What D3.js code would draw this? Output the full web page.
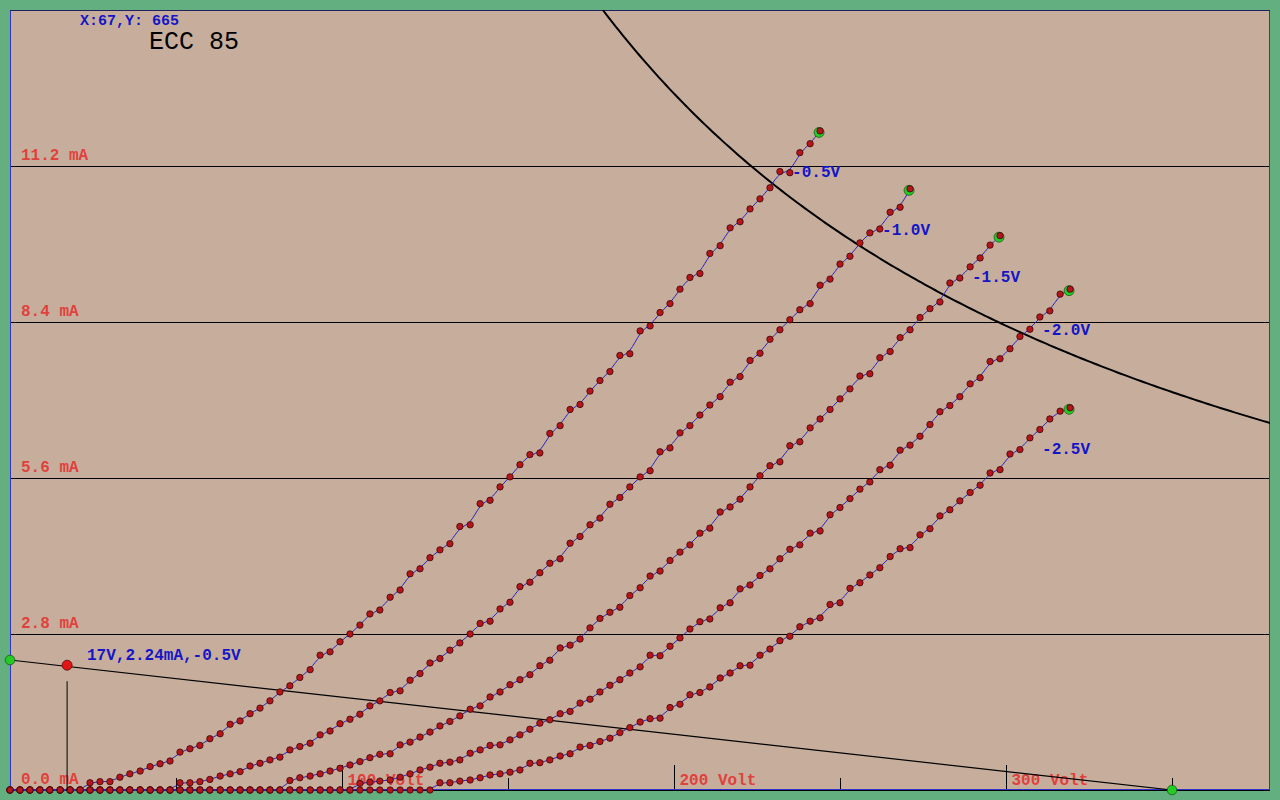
<!DOCTYPE html>
<html><head><meta charset="utf-8">
<script src="https://cdn.jsdelivr.net/npm/d3@7"></script>
<style>html,body{margin:0;padding:0;background:#64af7f;} svg{display:block}</style>
</head><body><svg id="c" width="1280" height="800"></svg>
<script>
// ---------- DATA ----------
const anodeVolts = [
  0,3.0,6.0,9.0,12.0,15.1,18.1,21.1,24.1,27.1,
  30.1,33.1,36.1,39.2,42.2,45.2,48.2,51.2,54.2,57.2,
  60.2,63.3,66.3,69.3,72.3,75.3,78.3,81.3,84.3,87.3,
  90.4,93.4,96.4,99.4,102.4,105.4,108.4,111.4,114.5,117.5,
  120.5,123.5,126.5,129.5,132.5,135.5,138.6,141.6,144.6,147.6,
  150.6,153.6,156.6,159.6,162.6,165.7,168.7,171.7,174.7,177.7,
  180.7,183.7,186.7,189.8,192.8,195.8,198.8,201.8,204.8,207.8,
  210.8,213.9,216.9,219.9,222.9,225.9,228.9,231.9,234.9,237.9,
  241.0,244.0,247.0,250.0,253.0,256.0,259.0,262.0,265.1,268.1,
  271.1,274.1,277.1,280.1,283.1,286.1,289.2,292.2,295.2,298.2,
  301.2,304.2,307.2,310.2,313.2,316.3,319.3
];
const gridLabels = ["-0.5V","-1.0V","-1.5V","-2.0V","-2.5V"];
// anode current (mA) per grid voltage, aligned with anodeVolts
const ia_g05 = [
  0,0,0,0,0,0,0,0,0.13,0.15,
  0.15,0.23,0.29,0.34,0.42,0.47,0.52,0.68,0.74,0.80,
  0.92,1.01,1.18,1.24,1.37,1.47,1.60,1.76,1.87,2.02,
  2.16,2.42,2.48,2.66,2.80,2.96,3.16,3.23,3.46,3.59,
  3.88,3.97,4.17,4.31,4.42,4.73,4.76,5.14,5.20,5.44,
  5.62,5.84,6.02,6.05,6.40,6.54,6.83,6.92,7.16,7.35,
  7.51,7.80,7.83,8.24,8.33,8.57,8.73,8.99,9.20,9.27,
  9.63,9.77,10.09,10.20,10.43,10.61,10.81,11.10,11.08,11.44,
  11.60,11.83
];
const ia_g10 = [
  0,0,0,0,0,0,0,0,0,0,
  0,0,0,0,0,0,0,0.13,0.13,0.15,
  0.19,0.25,0.29,0.33,0.43,0.48,0.54,0.59,0.72,0.78,
  0.84,0.99,1.06,1.19,1.27,1.36,1.51,1.60,1.75,1.78,
  1.97,2.09,2.28,2.36,2.51,2.64,2.80,2.99,3.03,3.25,
  3.37,3.65,3.73,3.90,4.07,4.15,4.43,4.55,4.76,4.88,
  5.13,5.25,5.44,5.62,5.73,6.07,6.14,6.41,6.54,6.73,
  6.91,7.06,7.32,7.42,7.71,7.84,8.09,8.26,8.44,8.62,
  8.73,9.06,9.17,9.44,9.58,9.82,10.00,10.07,10.37,10.46,
  10.79
];
const ia_g15 = [
  0,0,0,0,0,0,0,0,0,0,
  0,0,0,0,0,0,0,0,0,0,
  0,0,0,0,0,0,0,0,0.17,0.22,
  0.25,0.29,0.34,0.39,0.45,0.51,0.58,0.64,0.65,0.81,
  0.86,0.95,1.04,1.15,1.23,1.33,1.45,1.51,1.67,1.76,
  1.89,1.98,2.07,2.23,2.33,2.55,2.60,2.71,2.91,3.08,
  3.19,3.28,3.49,3.63,3.84,3.93,4.12,4.27,4.40,4.61,
  4.70,4.99,5.08,5.22,5.44,5.64,5.82,5.89,6.18,6.25,
  6.50,6.66,6.83,7.02,7.20,7.43,7.47,7.76,7.87,8.12,
  8.26,8.48,8.64,8.76,9.10,9.19,9.39,9.55,9.78,9.95
];
const ia_g20 = [
  0,0,0,0,0,0,0,0,0,0,
  0,0,0,0,0,0,0,0,0,0,
  0,0,0,0,0,0,0,0,0,0,
  0,0,0,0,0,0.12,0.14,0.16,0.18,0.23,
  0.29,0.36,0.41,0.48,0.50,0.54,0.66,0.72,0.80,0.81,
  0.90,0.99,1.09,1.20,1.26,1.37,1.41,1.56,1.63,1.76,
  1.88,1.98,2.10,2.21,2.42,2.41,2.58,2.73,2.89,3.02,
  3.07,3.27,3.36,3.61,3.68,3.85,3.97,4.15,4.32,4.40,
  4.61,4.65,4.94,5.07,5.23,5.40,5.53,5.75,5.83,6.10,
  6.19,6.35,6.56,6.79,6.90,7.06,7.29,7.40,7.69,7.74,
  7.92,8.14,8.27,8.49,8.60,8.90,8.99
];
const ia_g25 = [
  0,0,0,0,0,0,0,0,0,0,
  0,0,0,0,0,0,0,0,0,0,
  0,0,0,0,0,0,0,0,0,0,
  0,0,0,0,0,0,0,0,0,0,
  0,0,0,0.13,0.13,0.16,0.18,0.22,0.27,0.29,
  0.32,0.36,0.48,0.49,0.54,0.61,0.65,0.77,0.80,0.87,
  0.93,1.03,1.12,1.22,1.28,1.29,1.48,1.54,1.71,1.75,
  1.85,2.01,2.10,2.23,2.24,2.42,2.53,2.68,2.76,2.93,
  3.03,3.09,3.33,3.36,3.62,3.72,3.86,3.99,4.19,4.33,
  4.35,4.58,4.69,4.92,5.03,5.19,5.34,5.47,5.69,5.75,
  6.03,6.11,6.32,6.47,6.66,6.80,6.86
];
const yTickValues = [0, 2.8, 5.6, 8.4, 11.2];
const yTickLabels = ["0.0 mA","2.8 mA","5.6 mA","8.4 mA","11.2 mA"];
const xMajorTicks = [100, 200, 300];
const xMajorLabels = ["100 Volt","200 Volt","300 Volt"];
const xMinorTicks = [50, 150, 250, 350];
const supplyVolts = 350;          // load line end (V)
const loadLineMaxmA = 2.333;      // load line start current (mA)
const maxDissipationW = 2.5;      // anode dissipation hyperbola
const opPoint = {v: 17.2, ma: 2.24};
const opLabel = "17V,2.24mA,-0.5V";
const cursorText = "X:67,Y: 665";
const titleText = "ECC 85";

// ---------- CHART ----------
const svg = d3.select("#c");
const L = 10, R = 1270, T = 10, B = 790;
const x = d3.scaleLinear().domain([0, (R - L) / 3.32]).range([L, R]);
const y = d3.scaleLinear().domain([0, 14]).range([B, T]);
const mono = "'Liberation Mono','DejaVu Sans Mono',monospace";

svg.append("rect").attr("width",1280).attr("height",800).attr("fill","#64af7f");
svg.append("rect").attr("x",L).attr("y",T).attr("width",R-L).attr("height",B-T).attr("fill","#c7ae9c");
svg.append("defs").append("clipPath").attr("id","plot")
  .append("rect").attr("x",L).attr("y",T).attr("width",R-L).attr("height",B-T);

// horizontal grid lines + labels
const gy = svg.append("g").attr("transform",`translate(${L},0)`)
  .call(d3.axisRight(y).tickValues(yTickValues).tickSize(R-L)
        .tickFormat((d,i)=>yTickLabels[i]));
gy.select(".domain").remove();
gy.selectAll(".tick line").attr("stroke","#000").attr("stroke-width",1);
gy.selectAll(".tick text").attr("x",11).attr("y",-7).attr("dy",null)
  .attr("text-anchor","start").attr("fill","#e0413c")
  .style("font-family",mono).style("font-size","16px").style("font-weight","bold");

// x ticks
const gxMinor = svg.append("g").attr("transform",`translate(0,${B})`)
  .call(d3.axisTop(x).tickValues(xMinorTicks).tickSize(12).tickFormat(""));
gxMinor.select(".domain").remove();
gxMinor.selectAll(".tick line").attr("stroke","#000");
const gxMajor = svg.append("g").attr("transform",`translate(0,${B})`)
  .call(d3.axisTop(x).tickValues(xMajorTicks).tickSize(25).tickFormat((d,i)=>xMajorLabels[i]));
gxMajor.select(".domain").remove();
gxMajor.selectAll(".tick line").attr("stroke","#000");
gxMajor.selectAll(".tick text").attr("x",5).attr("y",-5).attr("dy",null)
  .attr("text-anchor","start").attr("fill","#e0413c")
  .style("font-family",mono).style("font-size","16px").style("font-weight","bold");

// border (under the marks)
svg.append("rect").attr("x",L+0.5).attr("y",T+0.5).attr("width",R-L-1).attr("height",B-T-1)
  .attr("fill","none").attr("stroke","#3333cc").attr("stroke-width",1);
svg.append("line").attr("x1",L).attr("x2",R).attr("y1",T+0.5).attr("y2",T+0.5).attr("stroke","#202060");

const plotG = svg.append("g").attr("clip-path","url(#plot)");

// load line
const loadLine = [{v:0, ma:loadLineMaxmA},{v:supplyVolts, ma:0}];
plotG.append("path").datum(loadLine)
  .attr("d", d3.line().x(d=>x(d.v)).y(d=>y(d.ma)))
  .attr("fill","none").attr("stroke","#000").attr("stroke-width",1.2);

// dissipation hyperbola P = V*I
const vStart = maxDissipationW*1000/14 - 2, vEnd = x.domain()[1] + 2;
const hyp = d3.range(vStart, vEnd, 1).map(v => ({v, ma: maxDissipationW*1000/v}));
plotG.append("path").datum(hyp)
  .attr("d", d3.line().x(d=>x(d.v)).y(d=>y(d.ma)))
  .attr("fill","none").attr("stroke","#000").attr("stroke-width",2);

// curves
const series = [ia_g05, ia_g10, ia_g15, ia_g20, ia_g25].map((arr, i) => ({
  label: gridLabels[i],
  pts: arr.map((ma, k) => ({v: anodeVolts[k], ma}))
}));
const lineGen = d3.line().x(d=>x(d.v)).y(d=>y(d.ma)).curve(d3.curveBasis);
const marks = svg.append("g");
series.forEach(s => {
  marks.append("path").datum(s.pts).attr("d", lineGen)
    .attr("fill","none").attr("stroke","#2a22c0").attr("stroke-width",1);
});
series.forEach(s => {
  const last = s.pts[s.pts.length-1];
  marks.append("circle").attr("cx",x(last.v)-1).attr("cy",y(last.ma)+1.5).attr("r",5)
    .attr("fill","#22cc22").attr("stroke","#1d5a1d").attr("stroke-width",0.8);
  marks.selectAll(null).data(s.pts).enter().append("circle")
    .attr("cx",d=>x(d.v)).attr("cy",d=>y(d.ma)).attr("r",3.2)
    .attr("fill","#b5161b").attr("stroke","#3a0808").attr("stroke-width",0.8);
  svg.append("text").attr("x",x(last.v)-28).attr("y",y(last.ma)+46)
    .text(s.label).attr("fill","#1515c8")
    .style("font-family",mono).style("font-size","16px").style("font-weight","bold");
});

// operating point
svg.append("line").attr("x1",x(opPoint.v)).attr("x2",x(opPoint.v))
  .attr("y1",y(opPoint.ma)+16).attr("y2",B).attr("stroke","#000").attr("stroke-width",1);
svg.append("circle").attr("cx",x(0)).attr("cy",y(loadLineMaxmA)).attr("r",4.8)
  .attr("fill","#22cc22").attr("stroke","#1d5a1d").attr("stroke-width",0.8);
svg.append("circle").attr("cx",x(supplyVolts)).attr("cy",y(0)).attr("r",4.8)
  .attr("fill","#22cc22").attr("stroke","#1d5a1d").attr("stroke-width",0.8);
svg.append("circle").attr("cx",x(opPoint.v)).attr("cy",y(opPoint.ma)).attr("r",5)
  .attr("fill","#e51414").attr("stroke","#5a0a0a").attr("stroke-width",0.8);
svg.append("text").attr("x",87).attr("y",660).text(opLabel).attr("fill","#1515c8")
  .style("font-family",mono).style("font-size","16px").style("font-weight","bold");

// texts
svg.append("text").attr("x",80).attr("y",25).text(cursorText).attr("fill","#1515c8")
  .style("font-family",mono).style("font-size","15px").style("font-weight","bold");
svg.append("text").attr("x",149).attr("y",49).text(titleText).attr("fill","#000")
  .style("font-family",mono).style("font-size","25px");
</script></body></html>
